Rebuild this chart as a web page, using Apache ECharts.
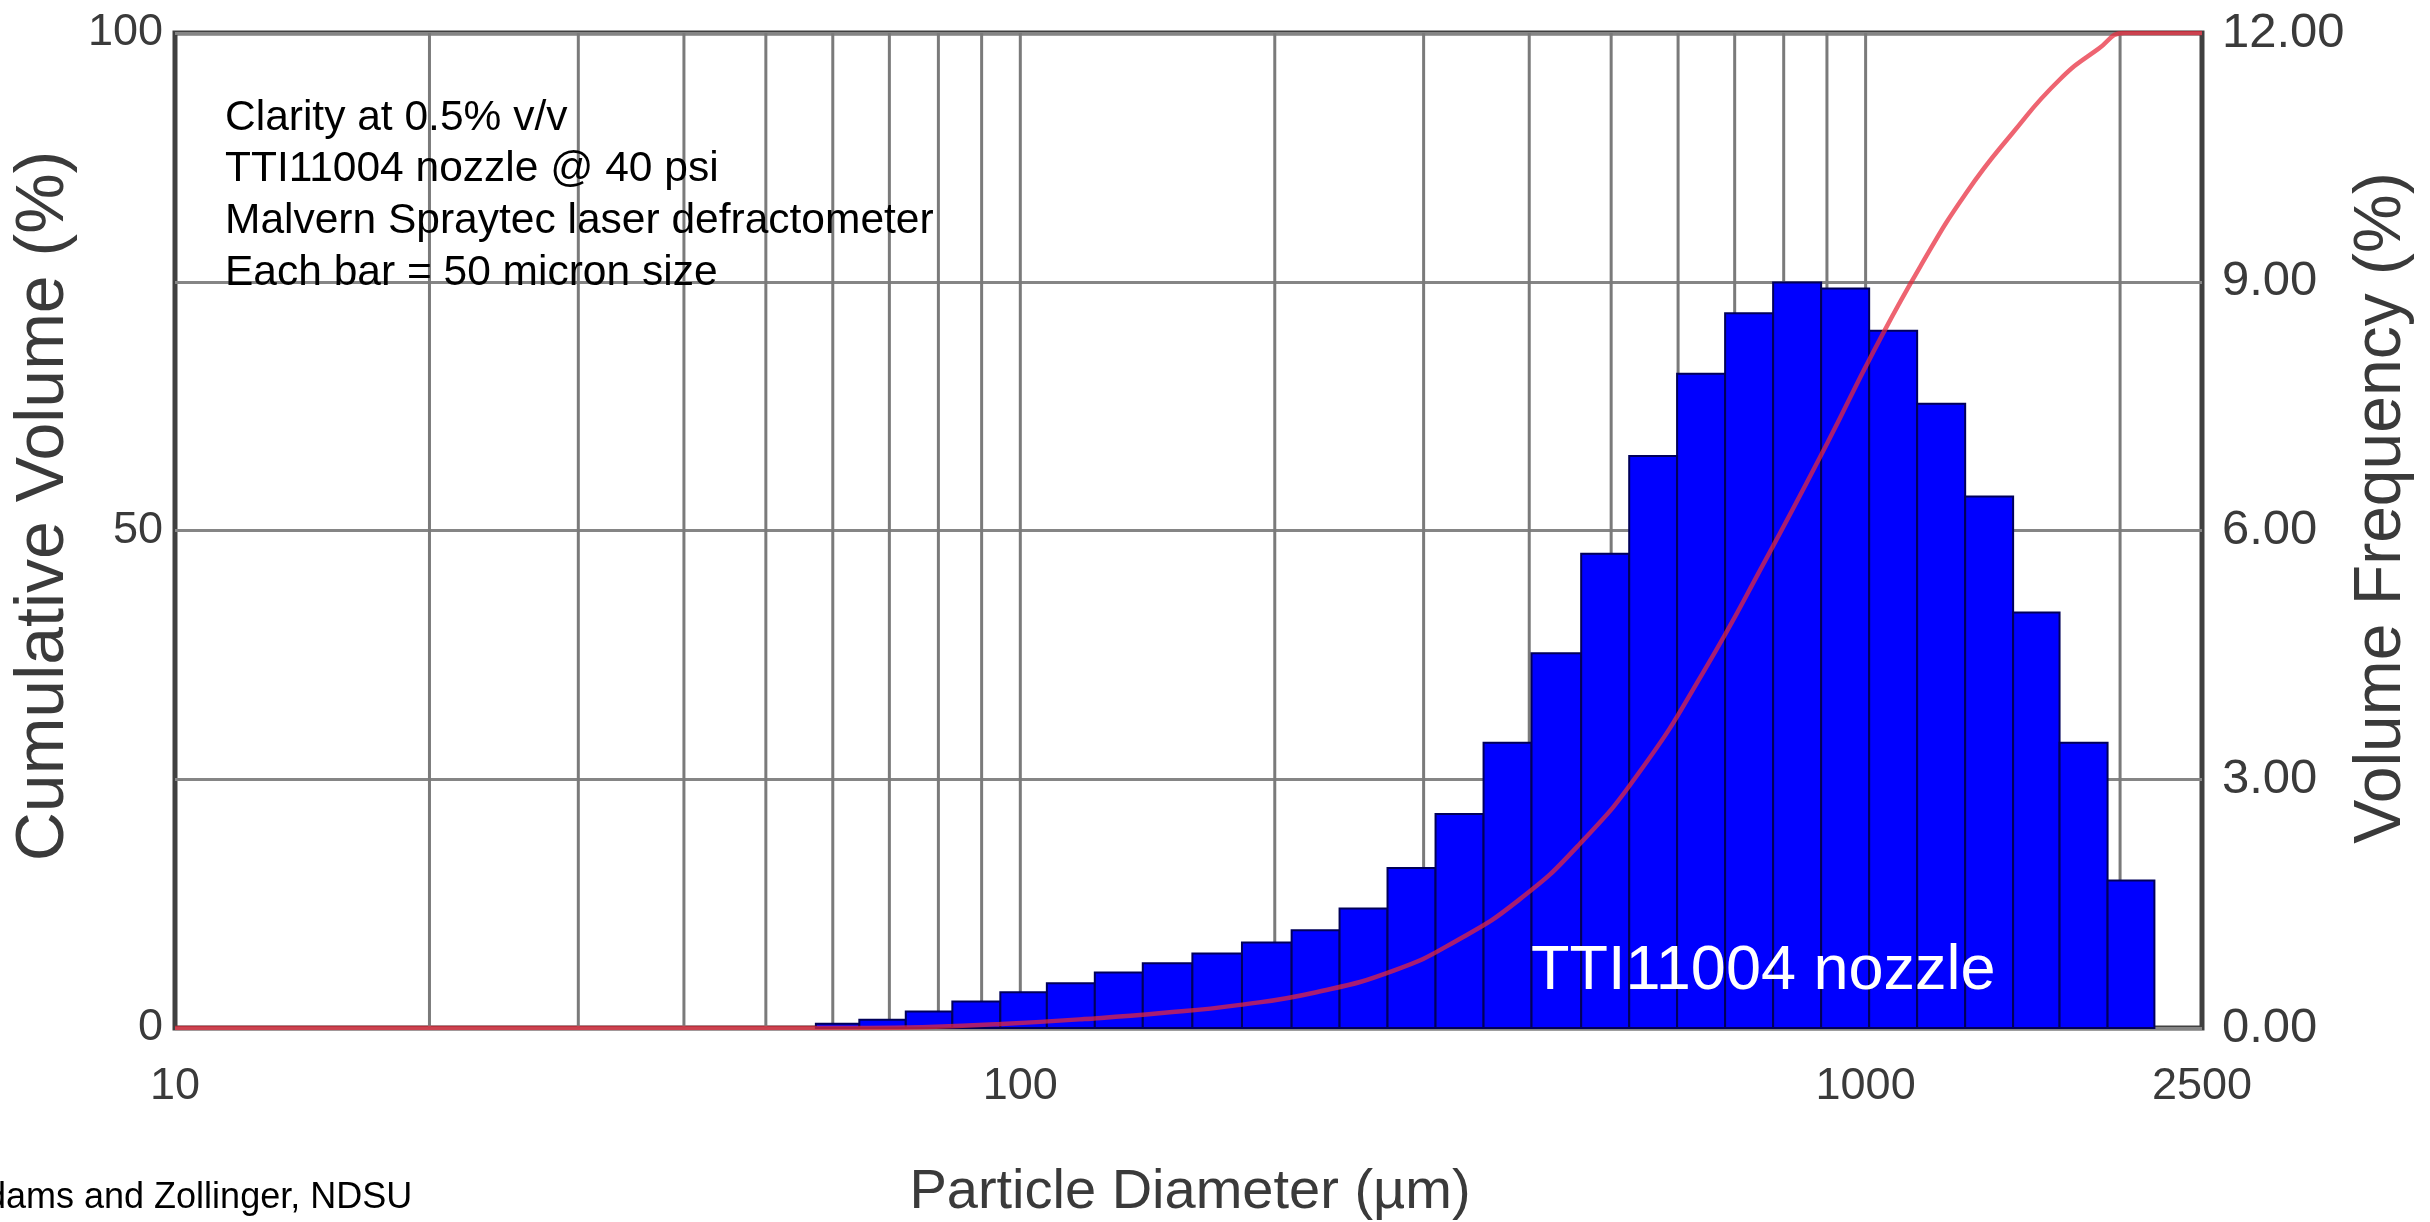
<!DOCTYPE html>
<html><head><meta charset="utf-8">
<script src="https://cdn.jsdelivr.net/npm/echarts@6/dist/echarts.min.js"></script>
<style>html,body{margin:0;padding:0;background:#fff}#c{width:2430px;height:1222px}</style>
</head><body><div id="c"></div>
<script>
// ---- data ----
const binEdges = [57.3, 64.5, 73.2, 83.1, 94.7, 107.5, 122.5, 139.6, 159.8, 182.9, 209.4, 238.6, 271.9, 309.9, 353.2, 402.5, 460.8, 525.2, 598.4, 682.0, 777.3, 885.9, 1009.7, 1150.7, 1311.5, 1494.5, 1696, 1933, 2196];
const volumeFrequency = [0.05, 0.1, 0.2, 0.32, 0.43, 0.54, 0.67, 0.78, 0.9, 1.03, 1.18, 1.44, 1.93, 2.58, 3.44, 4.52, 5.72, 6.9, 7.89, 8.62, 8.99, 8.92, 8.41, 7.53, 6.41, 5.01, 3.44, 1.78];
const cumulativeX = [10, 20, 30, 40, 50, 66, 78, 95, 119, 147, 181, 224, 277, 327, 388, 459, 543, 643, 761, 901, 1022, 1160, 1317, 1494, 1696, 1885, 2025, 2500];
const cumulativeY = [0, 0, 0, 0, 0, 0, 0.1, 0.4, 0.9, 1.5, 2.3, 3.6, 5.8, 8.7, 12.8, 18.5, 26, 35.8, 47, 58.8, 68, 76.5, 84, 90, 95.3, 98.4, 100, 100];
const xTickLabels = [10, 100, 1000, 2500];
const leftTickLabels = [0, 50, 100];
const gridLinesX = [20, 30, 40, 50, 60, 70, 80, 90, 100, 200, 300, 400, 500, 600, 700, 800, 900, 1000, 2000];
const noteLines = ['Clarity at 0.5% v/v', 'TTI11004 nozzle @ 40 psi', 'Malvern Spraytec laser defractometer', 'Each bar = 50 micron size'];
const seriesLabel = 'TTI11004 nozzle';
const xTitle = 'Particle Diameter (µm)';
const yLeftTitle = 'Cumulative Volume (%)';
const yRightTitle = 'Volume Frequency (%)';
const credit = 'Adams and Zollinger, NDSU';

// ---- build ----
const FONT = "'Liberation Sans', Arial, sans-serif";
const bars = volumeFrequency.map((v, i) => [binEdges[i], binEdges[i + 1], v]);
const curve = cumulativeX.map((x, i) => [x, cumulativeY[i]]);
const chart = echarts.init(document.getElementById('c'), null, {renderer: 'canvas'});

const option = {
  animation: false,
  backgroundColor: '#ffffff',
  grid: {left: 175, right: 228, top: 33, bottom: 194, show: true, borderColor: '#404040', borderWidth: 5, backgroundColor: 'transparent'},
  xAxis: {
    type: 'log', logBase: 10, min: 10, max: 2500,
    axisLine: {show: false}, axisTick: {show: false}, splitLine: {show: false},
    axisLabel: {customValues: xTickLabels, margin: 36, fontSize: 45, color: '#3a3a3a', fontFamily: FONT,
      formatter: v => String(Math.round(v))}
  },
  yAxis: [
    {type: 'value', min: 0, max: 100, interval: 25, position: 'left',
     axisLine: {show: false}, axisTick: {show: false},
     splitLine: {show: true, lineStyle: {color: '#858585', width: 3}},
     axisLabel: {margin: 12, fontSize: 45, color: '#3a3a3a', fontFamily: FONT,
       formatter: v => leftTickLabels.indexOf(v) >= 0 ? String(v) : ''}},
    {type: 'value', min: 0, max: 12, interval: 3, position: 'right',
     axisLine: {show: false}, axisTick: {show: false}, splitLine: {show: false},
     axisLabel: {margin: 20, fontSize: 49, color: '#3a3a3a', fontFamily: FONT,
       formatter: v => v.toFixed(2)}}
  ],
  series: [
    {type: 'custom', name: 'grid', z: 1, yAxisIndex: 0, silent: true,
     data: gridLinesX.map(v => [v]),
     encode: {x: 0},
     renderItem: (params, api) => {
       const a = api.coord([api.value(0), 0]);
       const b = api.coord([api.value(0), 100]);
       return {type: 'line', shape: {x1: a[0], y1: a[1], x2: b[0], y2: b[1]}, style: {stroke: '#7a7a7a', lineWidth: 3}};
     }},
    {type: 'custom', name: 'Volume Frequency', z: 3, yAxisIndex: 1,
     data: bars, encode: {x: [0, 1], y: 2},
     renderItem: (params, api) => {
       const p0 = api.coord([api.value(0), 0]);
       const p1 = api.coord([api.value(1), api.value(2)]);
       return {type: 'rect', shape: {x: p0[0], y: p1[1], width: p1[0] - p0[0], height: p0[1] - p1[1]},
               style: {fill: '#0000ff', stroke: '#00005a', lineWidth: 2}};
     }},
    {type: 'line', name: 'Cumulative Volume', z: 5, yAxisIndex: 0, data: curve,
     smooth: 0.5, symbol: 'none',
     lineStyle: {color: '#e8283a', width: 4.5, opacity: 0.72}}
  ],
  graphic: [
    ...noteLines.map((t, i) => ({type: 'text', x: 225, y: 118 + i * 51.7, z: 10,
       style: {text: t, fontSize: 42.5, fontFamily: FONT, fill: '#000', textVerticalAlign: 'middle'}})),
    {type: 'text', x: 1531, y: 972, z: 10,
     style: {text: seriesLabel, fontSize: 63, fontFamily: FONT, fill: '#ffffff', textAlign: 'left', textVerticalAlign: 'middle'}},
    {type: 'text', x: 1190, y: 1193, z: 10,
     style: {text: xTitle, fontSize: 56, fontFamily: FONT, fill: '#3a3a3a', textAlign: 'center', textVerticalAlign: 'middle'}},
    {type: 'text', x: 44, y: 506, rotation: Math.PI / 2, z: 10,
     style: {text: yLeftTitle, fontSize: 68, fontFamily: FONT, fill: '#3a3a3a', textAlign: 'center', textVerticalAlign: 'middle'}},
    {type: 'text', x: 2382, y: 508, rotation: Math.PI / 2, z: 10,
     style: {text: yRightTitle, fontSize: 66, fontFamily: FONT, fill: '#3a3a3a', textAlign: 'center', textVerticalAlign: 'middle'}},
    {type: 'text', x: -38, y: 1198, z: 10,
     style: {text: credit, fontSize: 36, fontFamily: FONT, fill: '#000', textAlign: 'left', textVerticalAlign: 'middle'}}
  ]
};
chart.setOption(option);
</script>
</body></html>
